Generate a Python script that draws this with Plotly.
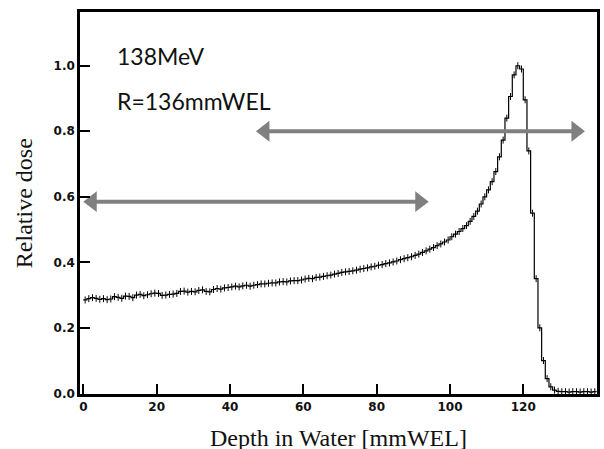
import plotly.graph_objects as go

# Depth bins (1 mm wide), left edges 0..139
bin_edges = list(range(0, 141))
dose = [
    0.285, 0.289, 0.292, 0.290, 0.287, 0.289, 0.286, 0.288, 0.295, 0.293,
    0.290, 0.297, 0.296, 0.292, 0.300, 0.302, 0.298, 0.301, 0.304, 0.306,
    0.305, 0.299, 0.300, 0.302, 0.303, 0.305, 0.311, 0.312, 0.309, 0.311,
    0.310, 0.314, 0.316, 0.311, 0.310, 0.317, 0.320, 0.318, 0.322, 0.323,
    0.325, 0.327, 0.325, 0.328, 0.330, 0.327, 0.330, 0.332, 0.334, 0.334,
    0.336, 0.337, 0.337, 0.340, 0.341, 0.340, 0.343, 0.344, 0.344, 0.346,
    0.349, 0.351, 0.350, 0.354, 0.355, 0.357, 0.359, 0.361, 0.364, 0.366,
    0.369, 0.371, 0.372, 0.374, 0.376, 0.379, 0.381, 0.383, 0.386, 0.388,
    0.391, 0.393, 0.396, 0.398, 0.401, 0.404, 0.408, 0.411, 0.414, 0.417,
    0.421, 0.425, 0.430, 0.435, 0.440, 0.445, 0.451, 0.456, 0.462, 0.468,
    0.478, 0.486, 0.494, 0.503, 0.512, 0.525, 0.540, 0.556, 0.578, 0.600,
    0.621, 0.646, 0.677, 0.722, 0.773, 0.840, 0.906, 0.972, 1.000, 0.990,
    0.896, 0.740, 0.550, 0.350, 0.200, 0.100, 0.045, 0.020, 0.010, 0.006,
    0.005, 0.005, 0.004, 0.005, 0.005, 0.004, 0.005, 0.005, 0.004, 0.005,
]

x_ticks = [0, 20, 40, 60, 80, 100, 120]
y_ticks = [0.0, 0.2, 0.4, 0.6, 0.8, 1.0]

x_title = "Depth in Water [mmWEL]"
y_title = "Relative dose"
energy_label = "138MeV"
range_label = "R=136mmWEL"
label_x = 9.2
label_y = [1.02, 0.883]

# arrows: (x_start, x_end, y)
arrows = [(47.1, 136.8, 0.80), (0.0, 94.2, 0.585)]

X_RANGE = [-0.9, 140.1]
Y_RANGE = [-0.002, 1.164]
PLOT_W = 604 - 80 - 4
HEAD_PX = 18

centers = [e + 0.5 for e in bin_edges[:-1]]
INK = "black"
ARROW = "#808080"

fig = go.Figure()
fig.add_trace(go.Scatter(
    x=bin_edges, y=dose + [dose[-1]], mode="lines", line_shape="hv",
    line=dict(color=INK, width=1.2), showlegend=False,
))
fig.add_trace(go.Scatter(
    x=centers, y=dose, mode="markers",
    marker=dict(color=INK, size=5, symbol="line-ns-open", line=dict(width=1, color=INK)),
    showlegend=False,
))

half = HEAD_PX / 2 * (X_RANGE[1] - X_RANGE[0]) / PLOT_W
for xs, xe, yv in arrows:
    fig.add_trace(go.Scatter(
        x=[xs + half, xe - half], y=[yv, yv], mode="lines",
        line=dict(color=ARROW, width=4), showlegend=False,
    ))
    fig.add_trace(go.Scatter(
        x=[xs + half, xe - half], y=[yv, yv], mode="markers",
        marker=dict(symbol=["triangle-left", "triangle-right"], size=HEAD_PX, color=ARROW,
                    line=dict(width=0)),
        showlegend=False,
    ))

fig.add_trace(go.Scatter(
    x=[label_x, label_x], y=label_y, mode="text", text=[energy_label, range_label],
    textposition="middle right",
    textfont=dict(family="Lato", size=23, color="#111111"), showlegend=False,
))

# axis titles as paper annotations
fig.add_annotation(x=0.5, y=-0.075, xref="paper", yref="paper", text=x_title,
                   showarrow=False, xanchor="center", yanchor="top",
                   font=dict(family="Liberation Serif", size=24, color="#111111"))
fig.add_annotation(x=-0.108, y=0.5, xref="paper", yref="paper", text=y_title,
                   showarrow=False, xanchor="center", yanchor="middle", textangle=-90,
                   font=dict(family="Liberation Serif", size=24, color="#111111"))

axis_common = dict(
    showline=True, linecolor=INK, linewidth=2.5, mirror=True,
    ticks="inside", ticklen=10, tickwidth=2, tickcolor=INK,
    showgrid=False, zeroline=False,
    tickfont=dict(family="DejaVu Sans", size=12, color="#111111"),
)

fig.update_xaxes(range=X_RANGE, tickvals=x_ticks,
                 ticktext=["<b>%d</b>" % v for v in x_ticks], **axis_common)
fig.update_yaxes(range=Y_RANGE, tickvals=y_ticks,
                 ticktext=["<b>%.1f</b>" % v for v in y_ticks], **axis_common)

fig.update_layout(
    width=604, height=449,
    margin=dict(l=80, r=4, t=12, b=55),
    paper_bgcolor="white", plot_bgcolor="white",
)

fig.write_html("out.html")
